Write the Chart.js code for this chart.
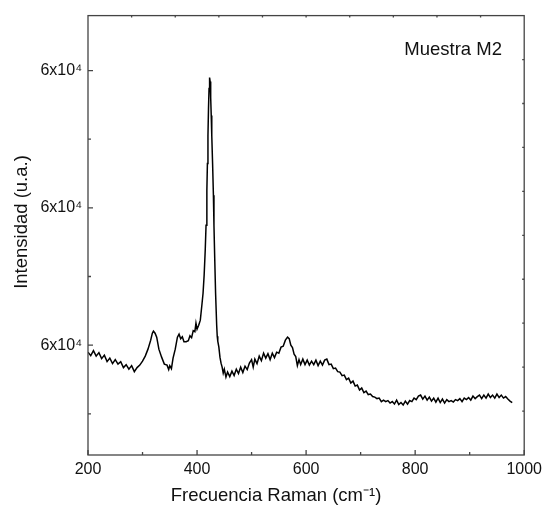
<!DOCTYPE html>
<html>
<head>
<meta charset="utf-8">
<script src="https://cdn.jsdelivr.net/npm/chart.js@4"></script>
<style>
  body { margin: 0; background: #fff; }
</style>
</head>
<body>
<canvas id="chart" width="547" height="506"></canvas>
<script>
// Raman shift (cm-1)
const ramanShift = [
  200, 205, 210, 215, 220, 225, 230, 235, 240, 245, 250, 255, 260, 265, 270, 275, 280, 285, 290, 295,
  300, 305, 310, 315, 318, 320, 323, 326, 330, 335, 340, 345, 348, 350, 353, 356, 360, 364, 367, 370,
  373, 376, 380, 384, 387, 390, 393, 396, 398, 400, 403, 406, 409, 411, 413, 415, 416.5, 418, 419, 420,
  421, 422, 423, 424, 425, 426, 427, 428.5, 430, 431, 432.5, 434, 436, 437, 438, 440, 442, 444, 446, 448,
  450, 453, 456, 460, 464, 468, 472, 476, 480, 484, 488, 492, 496, 500, 503, 506, 510, 514, 518, 522,
  526, 530, 534, 538, 542, 546, 550, 554, 558, 562, 566, 569, 572, 575, 578, 581, 584, 587, 590, 594,
  598, 602, 606, 610, 614, 618, 622, 626, 630, 634, 638, 642, 646, 650, 654, 658, 662, 666, 670, 674,
  678, 682, 686, 690, 694, 698, 702, 706, 710, 714, 718, 722, 726, 730, 734, 738, 742, 746, 750, 754,
  758, 762, 766, 770, 774, 778, 782, 786, 790, 794, 798, 802, 806, 810, 814, 818, 822, 826, 830, 834,
  838, 842, 846, 850, 854, 858, 862, 866, 870, 874, 878, 882, 886, 890, 894, 898, 902, 906, 910, 914,
  918, 922, 926, 930, 934, 938, 942, 946, 950, 954, 958, 962, 966, 970, 974, 978
];
// Intensidad (u.a.)
const intensity = [
  58555, 58520, 58570, 58515, 58550, 58490, 58525, 58460, 58495, 58440, 58480, 58435, 58460, 58400, 58430, 58385, 58420, 58360, 58400, 58425,
  58465, 58515, 58585, 58675, 58745, 58765, 58745, 58705, 58585, 58505, 58435, 58425, 58380, 58420, 58390, 58495, 58585, 58705, 58735, 58690,
  58710, 58660, 58660, 58670, 58720, 58700, 58770, 58760, 58845, 58785, 58825, 58875, 59035, 59145, 59325, 59575, 59825, 60175, 60445, 60725,
  60995, 61195, 61305, 61265, 61105, 60925, 60725, 60445, 60125, 59825, 59475, 59145, 58825, 58715, 58665, 58605, 58505, 58445, 58405, 58345,
  58385, 58305, 58355, 58310, 58365, 58320, 58385, 58340, 58405, 58350, 58415, 58380, 58445, 58480, 58405, 58485, 58440, 58515, 58470, 58545,
  58495, 58540, 58480, 58545, 58500, 58555, 58545, 58605, 58615, 58675, 58705, 58690, 58625, 58600, 58535, 58510, 58420, 58480, 58430, 58485,
  58430, 58475, 58425, 58465, 58430, 58475, 58420, 58465, 58425, 58475, 58485, 58430, 58435, 58390, 58395, 58360, 58355, 58320, 58325, 58280,
  58295, 58245, 58265, 58215, 58225, 58175, 58195, 58150, 58165, 58130, 58135, 58110, 58105, 58090, 58095, 58060, 58075, 58060, 58070, 58045,
  58060, 58035, 58075, 58030, 58050, 58025, 58065, 58035, 58070, 58060, 58095, 58080, 58115, 58125, 58085, 58115, 58075, 58105, 58065, 58095,
  58055, 58095, 58050, 58085, 58045, 58080, 58060, 58070, 58055, 58080, 58070, 58090, 58060, 58095, 58080, 58100, 58075, 58115, 58090, 58110,
  58125, 58090, 58125, 58095, 58135, 58100, 58125, 58095, 58135, 58100, 58125, 58095, 58110, 58085, 58065, 58050
];
// tick values
const xTicks = [200, 300, 400, 500, 600, 700, 800, 900, 1000];
const xTickLabels = ['200', '', '400', '', '600', '', '800', '', '1000'];
const yMajorTicks = [58625, 60000, 61375];
const yMinorTicks = [57937.5, 59312.5, 60687.5];
const yTickLabel = '6x10\u2074';

const FONT = '"Liberation Sans", Arial, sans-serif';

const framePlugin = {
    id: 'frame',
    afterDraw(chart) {
        const ctx = chart.ctx;
        const a = chart.chartArea;
        const xs = chart.scales.x;
        const ys = chart.scales.y;
        ctx.save();
        ctx.strokeStyle = '#444';
        ctx.lineWidth = 1.3;
        ctx.strokeRect(a.left, a.top, a.right - a.left, a.bottom - a.top);
        ctx.beginPath();
        // bottom ticks (inward)
        xTicks.forEach((v, i) => {
            const px = xs.getPixelForValue(v);
            const len = xTickLabels[i] ? 5 : 3;
            ctx.moveTo(px, a.bottom);
            ctx.lineTo(px, a.bottom - len);
        });
        // left ticks (inward)
        yMajorTicks.forEach(v => {
            const py = ys.getPixelForValue(v);
            ctx.moveTo(a.left, py);
            ctx.lineTo(a.left + 5, py);
        });
        yMinorTicks.forEach(v => {
            const py = ys.getPixelForValue(v);
            ctx.moveTo(a.left, py);
            ctx.lineTo(a.left + 3, py);
        });
        // small marks on top and right edges
        for (let k = 1; k < 10; k++) {
            const px = a.left + (a.right - a.left) * k / 10;
            ctx.moveTo(px, a.top);
            ctx.lineTo(px, a.top + 2);
            const py = a.bottom - (a.bottom - a.top) * k / 10;
            ctx.moveTo(a.right, py);
            ctx.lineTo(a.right - 2, py);
        }
        ctx.stroke();

        // texts
        ctx.fillStyle = '#111';
        ctx.font = '18.5px ' + FONT;
        ctx.textAlign = 'left';
        ctx.textBaseline = 'middle';
        ctx.fillText('Muestra M2', xs.getPixelForValue(780), ys.getPixelForValue(61585));

        ctx.textAlign = 'center';
        ctx.fillText('Frecuencia Raman (cm\u207B\u00B9)', 276, 496);

        ctx.translate(22, 222);
        ctx.rotate(-Math.PI / 2);
        ctx.fillText('Intensidad (u.a.)', 0, 0);
        ctx.restore();
    }
};

new Chart(document.getElementById('chart'), {
    type: 'line',
    data: {
        datasets: [{
            data: ramanShift.map((x, i) => ({x: x, y: intensity[i]})),
            borderColor: '#000',
            borderWidth: 1.5,
            pointRadius: 0,
            tension: 0,
            fill: false
        }]
    },
    options: {
        responsive: false,
        animation: false,
        layout: {padding: {left: 0, top: 15, right: 19, bottom: 0}},
        plugins: {legend: {display: false}, tooltip: {enabled: false}},
        scales: {
            x: {
                type: 'linear',
                min: 200,
                max: 1000,
                afterBuildTicks: s => { s.ticks = xTicks.map(v => ({value: v})); },
                afterFit: s => { s.height = 51; },
                grid: {display: false, drawTicks: false},
                border: {display: false},
                ticks: {
                    autoSkip: false,
                    maxRotation: 0,
                    padding: 5,
                    color: '#111',
                    font: {family: FONT, size: 16},
                    callback: (v, i) => xTickLabels[i]
                }
            },
            y: {
                type: 'linear',
                min: 57525,
                max: 61925,
                afterBuildTicks: s => { s.ticks = yMajorTicks.map(v => ({value: v})); },
                afterFit: s => { s.width = 88; },
                grid: {display: false, drawTicks: false},
                border: {display: false},
                ticks: {
                    autoSkip: false,
                    padding: 6,
                    color: '#111',
                    font: {family: FONT, size: 16},
                    callback: () => yTickLabel
                }
            }
        }
    },
    plugins: [framePlugin]
});
</script>
</body>
</html>
